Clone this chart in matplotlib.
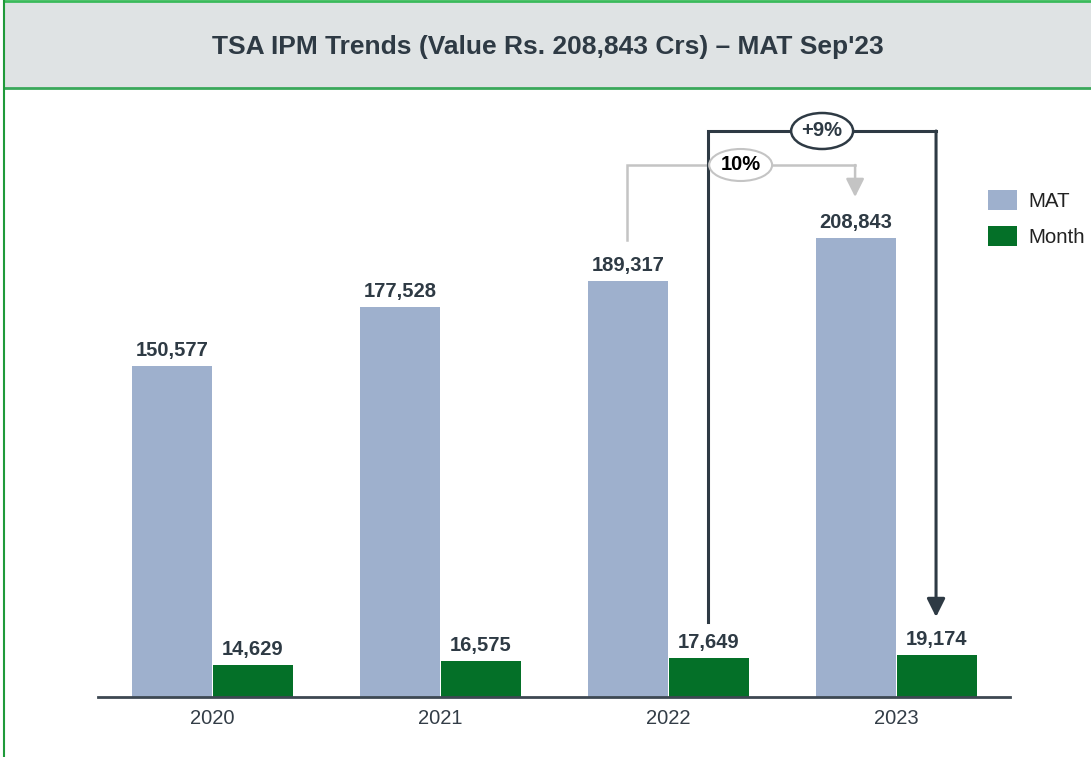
import matplotlib
matplotlib.use("Agg")
import matplotlib.pyplot as plt
from matplotlib.patches import Ellipse, Rectangle
import numpy as np

years = ["2020", "2021", "2022", "2023"]
mat_values = [150577, 177528, 189317, 208843]
month_values = [14629, 16575, 17649, 19174]
title = "TSA IPM Trends (Value Rs. 208,843 Crs) \u2013 MAT Sep'23"
growth_mat = "10%"
growth_month = "+9%"

plt.rcParams['font.family'] = ['Liberation Sans', 'DejaVu Sans']

W, H = 1091, 757
fig = plt.figure(figsize=(W / 100, H / 100), dpi=100)

# title band
band = Rectangle((4 / W, (H - 88) / H), 1 - 4 / W, 87 / H, transform=fig.transFigure,
                 facecolor='#dfe3e4', edgecolor='none', zorder=0)
fig.patches.append(band)
fig.add_artist(plt.Line2D([4 / W, 1], [(H - 88) / H] * 2, transform=fig.transFigure,
                          color='#3aa85a', lw=2))
fig.add_artist(plt.Line2D([4 / W, 1], [(H - 1) / H] * 2, transform=fig.transFigure,
                          color='#3aba5a', lw=2))
fig.add_artist(plt.Line2D([4 / W, 4 / W], [0, 1], transform=fig.transFigure,
                          color='#1f9a3a', lw=1.5))
fig.text(548 / W, (H - 47) / H, title, ha='center', va='center', fontsize=19,
         fontweight='bold', color='#2e3a44')

# axes
left, right = 98 / W, 1010 / W
bottom, top = (H - 697) / H, (H - 100) / H
ax = fig.add_axes([left, bottom, right - left, top - bottom])
px_per_unit = 459 / 208843
ymax = (697 - 100) / px_per_unit
ax.set_ylim(0, ymax)
cat_w = 228
ax.set_xlim(-(212.5 - 98) / cat_w, 3 + (1010 - 896) / cat_w)

x = np.arange(len(years))
bw = 80 / cat_w
mat_c = '#9eb0cd'
mon_c = '#047028'
b1 = ax.bar(x - bw / 2, mat_values, width=bw, color=mat_c, label='MAT', zorder=2)
b2 = ax.bar(x + bw / 2 + 1 / cat_w, month_values, width=bw, color=mon_c, label='Month', zorder=2)

lab_c = '#2e3a44'
for xi, v in zip(x, mat_values):
    ax.text(xi - bw / 2, v + 6 / px_per_unit, f"{v:,}", ha='center', va='bottom',
            fontsize=14.5, fontweight='bold', color=lab_c)
for xi, v in zip(x, month_values):
    ax.text(xi + bw / 2, v + 6 / px_per_unit, f"{v:,}", ha='center', va='bottom',
            fontsize=14.5, fontweight='bold', color=lab_c)

for s in ['top', 'right', 'left']:
    ax.spines[s].set_visible(False)
ax.spines['bottom'].set_color('#3d4852')
ax.spines['bottom'].set_linewidth(2)
ax.set_yticks([])
ax.set_xticks(x)
ax.set_xticklabels(years, fontsize=14.5, color='#333d47')
ax.tick_params(axis='x', length=0, pad=9)


def ypix(p):
    return (697 - p) / px_per_unit


def xpix(p):
    return 2 + (p - 668) / cat_w


head = '-|>,head_length=1.1,head_width=0.55'

# gray arrow MAT 2022 -> 2023
gray = '#c4c4c4'
x0m, x1m = xpix(627), xpix(855)
yh = ypix(165)
ax.plot([x0m, x0m, x1m], [ypix(240), yh, yh], color=gray, lw=1.8, zorder=3,
        solid_joinstyle='miter')
ax.annotate('', xy=(x1m, ypix(197)), xytext=(x1m, yh),
            arrowprops=dict(arrowstyle=head, color=gray, lw=1.8,
                            shrinkA=0, shrinkB=0), zorder=3)

# dark arrow Month 2022 -> 2023
dark = '#2e3a44'
x0n, x1n = xpix(708), xpix(936)
yd = ypix(131)
ax.plot([x0n, x0n, x1n], [ypix(622), yd, yd], color=dark, lw=2.2, zorder=4,
        solid_joinstyle='miter')
ax.annotate('', xy=(x1n, ypix(617)), xytext=(x1n, yd),
            arrowprops=dict(arrowstyle=head, color=dark, lw=2.2,
                            shrinkA=0, shrinkB=0), zorder=4)

# ellipses
e1 = Ellipse((xpix(740.5), yh), 63 / cat_w, 32 / px_per_unit,
             facecolor='white', edgecolor=gray, lw=1.5, zorder=5, clip_on=False)
ax.add_patch(e1)
ax.text(xpix(740.5), yh, growth_mat, ha='center', va='center',
        fontsize=14.5, fontweight='bold', color='black', zorder=6)
e2 = Ellipse((xpix(822), yd), 62 / cat_w, 36 / px_per_unit,
             facecolor='white', edgecolor=dark, lw=1.8, zorder=5, clip_on=False)
ax.add_patch(e2)
ax.text(xpix(822), yd, growth_month, ha='center', va='center',
        fontsize=14.5, fontweight='bold', color=dark, zorder=6)

leg = fig.legend(handles=[b1, b2], labels=['MAT', 'Month'], loc='upper left',
                 bbox_to_anchor=(988 / W, (H - 190) / H), frameon=False, fontsize=14.8,
                 borderpad=0, borderaxespad=0,
                 handlelength=1.42, handleheight=1.1, handletextpad=0.55, labelspacing=0.75)
for t in leg.get_texts():
    t.set_color('#222222')

fig.savefig('out.png', dpi=100)
